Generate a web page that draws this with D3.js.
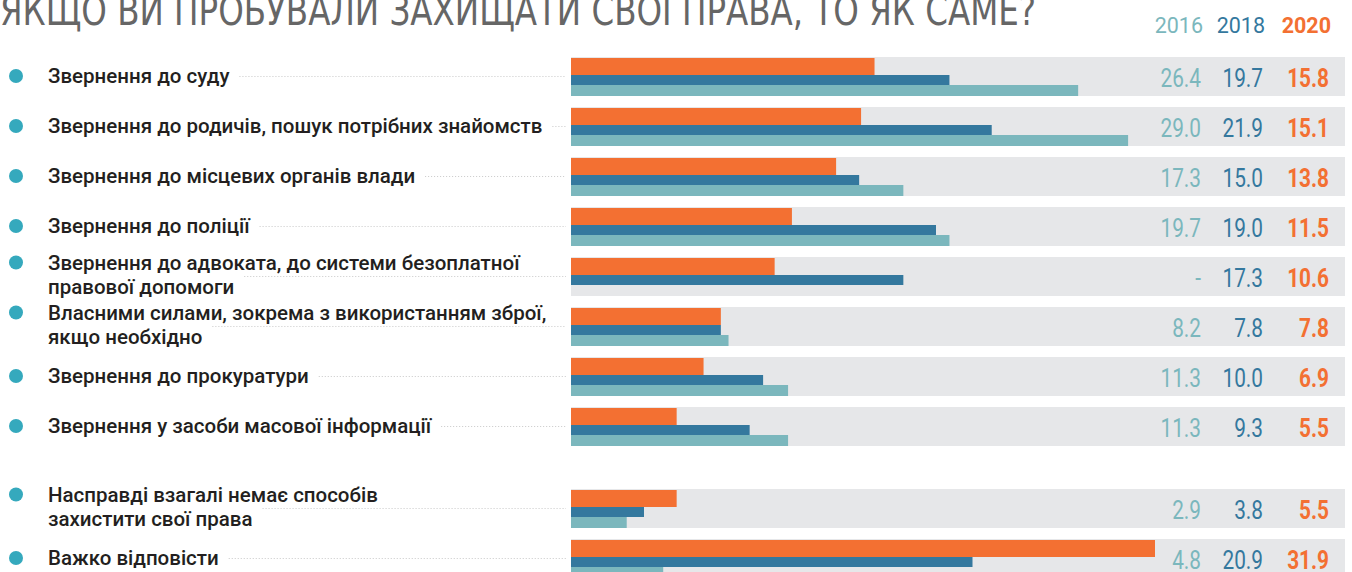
<html>
  <head>
    <script src="https://cdnjs.cloudflare.com/ajax/libs/d3/7.8.5/d3.min.js"></script>
    <style>
    body { margin: 0; background: #fff; }
    .label { font-family: Roboto, "Noto Sans", sans-serif; font-weight: 500; font-size: 20.5px; fill: #231f20; }
    .num { font-family: Roboto, "Noto Sans", sans-serif; font-size: 26px; }
    .head { font-family: Roboto, "Noto Sans", sans-serif; font-size: 21.5px; }
    </style>
  </head>
  <body>
    <svg width="1352" height="572" id="chart"></svg>
    <script>
    var title = 'ЯКЩО ВИ ПРОБУВАЛИ ЗАХИЩАТИ СВОЇ ПРАВА, ТО ЯК САМЕ?';
    var years = ['2016', '2018', '2020'];
    var categories = [
      'Звернення до суду',
      'Звернення до родичів, пошук потрібних знайомств',
      'Звернення до місцевих органів влади',
      'Звернення до поліції',
      'Звернення до адвоката, до системи безоплатної\nправової допомоги',
      'Власними силами, зокрема з використанням зброї,\nякщо необхідно',
      'Звернення до прокуратури',
      'Звернення у засоби масової інформації',
      'Насправді взагалі немає способів\nзахистити свої права',
      'Важко відповісти'
    ];
    var v2016 = [26.4, 29.0, 17.3, 19.7, null, 8.2, 11.3, 11.3, 2.9, 4.8];
    var v2018 = [19.7, 21.9, 15.0, 19.0, 17.3, 7.8, 10.0, 9.3, 3.8, 20.9];
    var v2020 = [15.8, 15.1, 13.8, 11.5, 10.6, 7.8, 6.9, 5.5, 5.5, 31.9];

    var colors = { '2016': '#7bb7bd', '2018': '#34789e', '2020': '#f37032' };
    var svg = d3.select('#chart');

    var x = d3.scaleLinear().domain([0, 30.4]).range([571, 1155]).clamp(true);
    // second group sits a bit lower than the first eight rows
    function slot(i) { return i + (i >= 8 ? 0.64 : 0); }
    var y = d3.scaleLinear().domain([0, 1]).range([57, 107]);
    var rowH = 39;

    // title, cut at the top edge like the original
    svg.append('text')
      .attr('x', 0).attr('y', 25)
      .attr('textLength', 1036).attr('lengthAdjust', 'spacingAndGlyphs')
      .style('font-family', '"Liberation Sans Narrow", "DejaVu Sans Condensed", sans-serif')
      .style('font-size', '40px')
      .style('fill', '#666')
      .text(title);

    var colRight = [1201, 1263, 1329];
    svg.selectAll('.head').data(years).enter().append('text')
      .attr('class', 'head')
      .attr('x', function(d, i) { return colRight[i] + 2; })
      .attr('y', 33)
      .attr('text-anchor', 'end')
      .style('fill', function(d) { return colors[d]; })
      .style('font-weight', function(d) { return d === '2020' ? 700 : 400; })
      .text(function(d) { return d; });

    var rows = svg.selectAll('.row')
      .data(categories)
      .enter().append('g')
      .attr('class', 'row')
      .attr('transform', function(d, i) { return 'translate(0,' + y(slot(i)) + ')'; });

    rows.append('rect')
      .attr('x', 571).attr('y', 0)
      .attr('width', 1345 - 571).attr('height', rowH)
      .style('fill', '#e6e7e9');

    var bars = [
      { vals: v2020, key: '2020', y: 1, h: 17 },
      { vals: v2018, key: '2018', y: 18, h: 10 },
      { vals: v2016, key: '2016', y: 28, h: 11 }
    ];
    bars.forEach(function(b) {
      rows.filter(function(d, i) { return b.vals[i] != null; })
        .append('rect')
        .attr('x', x(0))
        .attr('y', b.y)
        .attr('height', b.h)
        .attr('width', function(d) { return x(b.vals[categories.indexOf(d)]) - x(0); })
        .style('fill', colors[b.key]);
    });

    // values, squeezed to look like a condensed face
    var cols = [v2016, v2018, v2020];
    cols.forEach(function(vals, c) {
      rows.append('text')
        .attr('class', 'num')
        .attr('transform', 'translate(' + colRight[c] + ',' + (rowH / 2 + 10.5) + ') scale(0.8,1)')
        .attr('text-anchor', 'end')
        .style('fill', colors[years[c]])
        .style('font-weight', c === 2 ? 700 : 400)
        .text(function(d, i) {
          var v = vals[categories.indexOf(d)];
          return v == null ? '-' : v.toFixed(1);
        });
    });

    // labels
    rows.each(function(d) {
      var g = d3.select(this);
      var lines = d.split('\n');
      var c = rowH / 2;
      var base = lines.length === 1 ? [c + 6.5] : [c - 7, c + 17];
      var leader = g.append('line')
        .attr('y1', c).attr('y2', c)
        .attr('x2', 566)
        .style('stroke', '#c8c8c8')
        .style('stroke-dasharray', '1,2');
      var ends = [];
      lines.forEach(function(l, k) {
        var t = g.append('text')
          .attr('class', 'label')
          .attr('x', 48).attr('y', base[k])
          .text(l);
        ends.push(48 + t.node().getComputedTextLength());
      });
      leader.attr('x1', d3.min(ends) + 10);
      g.append('circle')
        .attr('cx', 16).attr('cy', base[0] - 7).attr('r', 7)
        .style('fill', '#35a9bd');
    });
    </script>
  </body>
</html>
